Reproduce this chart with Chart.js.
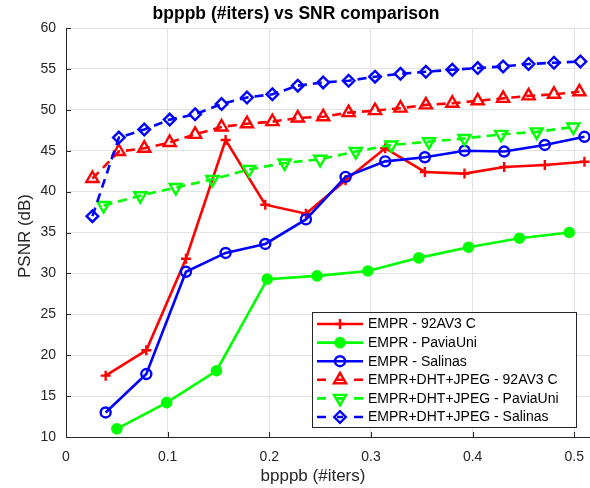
<!DOCTYPE html>
<html>
<head>
<meta charset="utf-8">
<script src="https://cdn.jsdelivr.net/npm/chart.js@4.4.1/dist/chart.umd.min.js"></script>
<style>
  html, body { margin: 0; padding: 0; background: #fff; overflow: hidden; }
  #wrap { width: 590px; height: 488px; overflow: hidden; }
</style>
</head>
<body>
<div id="wrap"><canvas id="snrChart" width="602" height="488"></canvas></div>
<script>
const xTicks = [0, 0.1, 0.2, 0.3, 0.4, 0.5];
const yTicks = [10, 15, 20, 25, 30, 35, 40, 45, 50, 55, 60];

const seriesNames = [
  "EMPR - 92AV3 C",
  "EMPR - PaviaUni",
  "EMPR - Salinas",
  "EMPR+DHT+JPEG - 92AV3 C",
  "EMPR+DHT+JPEG - PaviaUni",
  "EMPR+DHT+JPEG - Salinas"
];

// EMPR
const emprIndianX = [0.039, 0.079, 0.118, 0.157, 0.196, 0.236, 0.275, 0.314, 0.353, 0.392, 0.431, 0.471, 0.510];
const emprIndianY = [17.5, 20.6, 31.8, 46.3, 38.4, 37.3, 41.4, 45.3, 42.4, 42.2, 43.0, 43.25, 43.65];

const emprPaviaX = [0.050, 0.099, 0.148, 0.198, 0.247, 0.297, 0.347, 0.396, 0.446, 0.495];
const emprPaviaY = [11.0, 14.2, 18.1, 29.3, 29.7, 30.3, 31.9, 33.2, 34.3, 35.0];

const emprSalinasX = [0.039, 0.079, 0.118, 0.157, 0.196, 0.236, 0.275, 0.314, 0.353, 0.392, 0.431, 0.471, 0.510];
const emprSalinasY = [13.0, 17.7, 30.2, 32.5, 33.6, 36.6, 41.8, 43.7, 44.2, 45.0, 44.9, 45.7, 46.7];

// EMPR+DHT+JPEG
const dhtIndianX = [0.026, 0.052, 0.077, 0.102, 0.127, 0.153, 0.178, 0.203, 0.228, 0.253, 0.278, 0.304, 0.329, 0.354, 0.380, 0.405, 0.430, 0.455, 0.480, 0.505];
const dhtIndianY = [41.6, 44.9, 45.3, 46.0, 47.0, 47.9, 48.3, 48.55, 49.0, 49.15, 49.65, 49.9, 50.2, 50.6, 50.8, 51.1, 51.4, 51.7, 51.9, 52.2];

const dhtPaviaX = [0.037, 0.073, 0.108, 0.144, 0.180, 0.215, 0.250, 0.285, 0.320, 0.357, 0.392, 0.428, 0.463, 0.499];
const dhtPaviaY = [38.3, 39.5, 40.5, 41.5, 42.7, 43.5, 43.95, 44.9, 45.7, 46.1, 46.5, 47.0, 47.3, 47.9];

const dhtSalinasX = [0.026, 0.052, 0.077, 0.102, 0.127, 0.153, 0.178, 0.203, 0.228, 0.253, 0.278, 0.304, 0.329, 0.354, 0.380, 0.405, 0.430, 0.455, 0.480, 0.506];
const dhtSalinasY = [37.0, 46.6, 47.6, 48.8, 49.45, 50.7, 51.5, 51.9, 52.95, 53.35, 53.55, 54.05, 54.4, 54.65, 54.9, 55.1, 55.3, 55.6, 55.75, 55.9];

const FONT = '"Liberation Sans", Arial, sans-serif';
const AXIS = '#262626';

function zip(xs, ys) {
  return xs.map((x, i) => ({ x: x, y: ys[i] }));
}

function makeSet(i, xs, ys, color, dashed, style, radius, filled, rotation) {
  return {
    label: seriesNames[i],
    data: zip(xs, ys),
    borderColor: color,
    borderWidth: 2.6,
    borderDash: dashed ? [9, 6] : [],
    pointStyle: style,
    pointRadius: radius,
    pointRotation: rotation,
    pointBorderWidth: 2.4,
    pointBorderColor: color,
    pointBackgroundColor: filled ? color : 'rgba(0,0,0,0)',
    pointHoverRadius: radius,
    tension: 0,
    fill: false,
    order: 10 - i,
    dashed: dashed
  };
}

const datasets = [
  makeSet(0, emprIndianX, emprIndianY, '#ff0000', false, 'cross', 5, false, 0),
  makeSet(1, emprPaviaX, emprPaviaY, '#00ff00', false, 'circle', 4.6, true, 0),
  makeSet(2, emprSalinasX, emprSalinasY, '#0000ff', false, 'circle', 5, false, 0),
  makeSet(3, dhtIndianX, dhtIndianY, '#ff0000', true, 'triangle', 7, false, 0),
  makeSet(4, dhtPaviaX, dhtPaviaY, '#00ff00', true, 'triangle', 7, false, 180),
  makeSet(5, dhtSalinasX, dhtSalinasY, '#0000ff', true, 'rectRot', 5.8, false, 0)
];

function marker(ctx, ds, x, y) {
  ctx.save();
  ctx.setLineDash([]);
  ctx.lineWidth = ds.pointBorderWidth;
  ctx.strokeStyle = ds.borderColor;
  ctx.fillStyle = ds.pointBackgroundColor;
  Chart.helpers.drawPoint(ctx, {
    pointStyle: ds.pointStyle,
    radius: ds.pointRadius,
    rotation: ds.pointRotation,
    borderWidth: ds.pointBorderWidth
  }, x, y);
  ctx.restore();
}

const matlabDecor = {
  id: 'matlabDecor',
  afterDraw(chart) {
    const ctx = chart.ctx;
    const area = chart.chartArea;
    const xs = chart.scales.x;
    const ys = chart.scales.y;

    // inward tick marks
    ctx.save();
    ctx.strokeStyle = AXIS;
    ctx.lineWidth = 1;
    ctx.beginPath();
    yTicks.forEach(v => {
      const py = Math.round(ys.getPixelForValue(v)) + 0.5;
      ctx.moveTo(area.left, py);
      ctx.lineTo(area.left + 5, py);
    });
    xTicks.forEach(v => {
      const px = Math.round(xs.getPixelForValue(v)) + 0.5;
      ctx.moveTo(px, area.bottom);
      ctx.lineTo(px, area.bottom - 5);
    });
    ctx.stroke();

    // title and axis labels
    ctx.textAlign = 'center';
    ctx.textBaseline = 'middle';
    ctx.fillStyle = '#000000';
    ctx.font = 'bold 17.5px ' + FONT;
    ctx.fillText('bpppb (#iters) vs SNR comparison', 296, 14);

    ctx.fillStyle = AXIS;
    ctx.font = '17px ' + FONT;
    ctx.fillText('bpppb (#iters)', 313, 476);
    ctx.save();
    ctx.translate(25, 236);
    ctx.rotate(-Math.PI / 2);
    ctx.fillText('PSNR (dB)', 0, 0);
    ctx.restore();

    // legend box
    const left = 312, top = 312, right = 576, bottom = 427;
    ctx.fillStyle = '#ffffff';
    ctx.fillRect(left, top, right - left, bottom - top);
    ctx.strokeStyle = AXIS;
    ctx.lineWidth = 1;
    ctx.strokeRect(left + 0.5, top + 0.5, right - left, bottom - top);

    ctx.font = '14px ' + FONT;
    ctx.textAlign = 'left';
    ctx.textBaseline = 'middle';
    chart.data.datasets.forEach((ds, i) => {
      const cy = 324 + i * 18.6;
      ctx.strokeStyle = ds.borderColor;
      ctx.lineWidth = ds.borderWidth;
      ctx.setLineDash([]);
      ctx.beginPath();
      if (ds.dashed) {
        ctx.moveTo(317, cy); ctx.lineTo(326, cy);
        ctx.moveTo(354, cy); ctx.lineTo(363, cy);
        ctx.moveTo(337, cy); ctx.lineTo(343, cy);
      } else {
        ctx.moveTo(317, cy); ctx.lineTo(363, cy);
      }
      ctx.stroke();
      marker(ctx, ds, 340, cy);
      ctx.fillStyle = '#000000';
      ctx.fillText(ds.label, 368, cy + 0.5);
    });
    ctx.restore();
  }
};

new Chart(document.getElementById('snrChart'), {
  type: 'line',
  data: { datasets: datasets },
  options: {
    responsive: false,
    animation: false,
    events: [],
    layout: { padding: { top: 28, left: 0, right: 0, bottom: 0 } },
    plugins: {
      legend: { display: false },
      tooltip: { enabled: false },
      title: { display: false }
    },
    scales: {
      x: {
        type: 'linear',
        min: 0,
        max: 0.518,
        afterFit: s => { s.height = 51; },
        afterBuildTicks: s => { s.ticks = xTicks.map(v => ({ value: v })); },
        grid: { color: '#e3e3e3', lineWidth: 1, drawTicks: false },
        border: { display: true, color: AXIS, width: 1 },
        ticks: {
          color: AXIS,
          padding: 12,
          maxRotation: 0,
          font: { family: FONT, size: 14 },
          callback: v => String(v)
        }
      },
      y: {
        type: 'linear',
        min: 10,
        max: 60,
        afterFit: s => { s.width = 66; },
        afterBuildTicks: s => { s.ticks = yTicks.map(v => ({ value: v })); },
        grid: { color: '#e3e3e3', lineWidth: 1, drawTicks: false },
        border: { display: true, color: AXIS, width: 1 },
        ticks: {
          color: AXIS,
          padding: 10,
          font: { family: FONT, size: 14 },
          callback: v => String(v)
        }
      }
    }
  },
  plugins: [matlabDecor]
});
</script>
</body>
</html>
